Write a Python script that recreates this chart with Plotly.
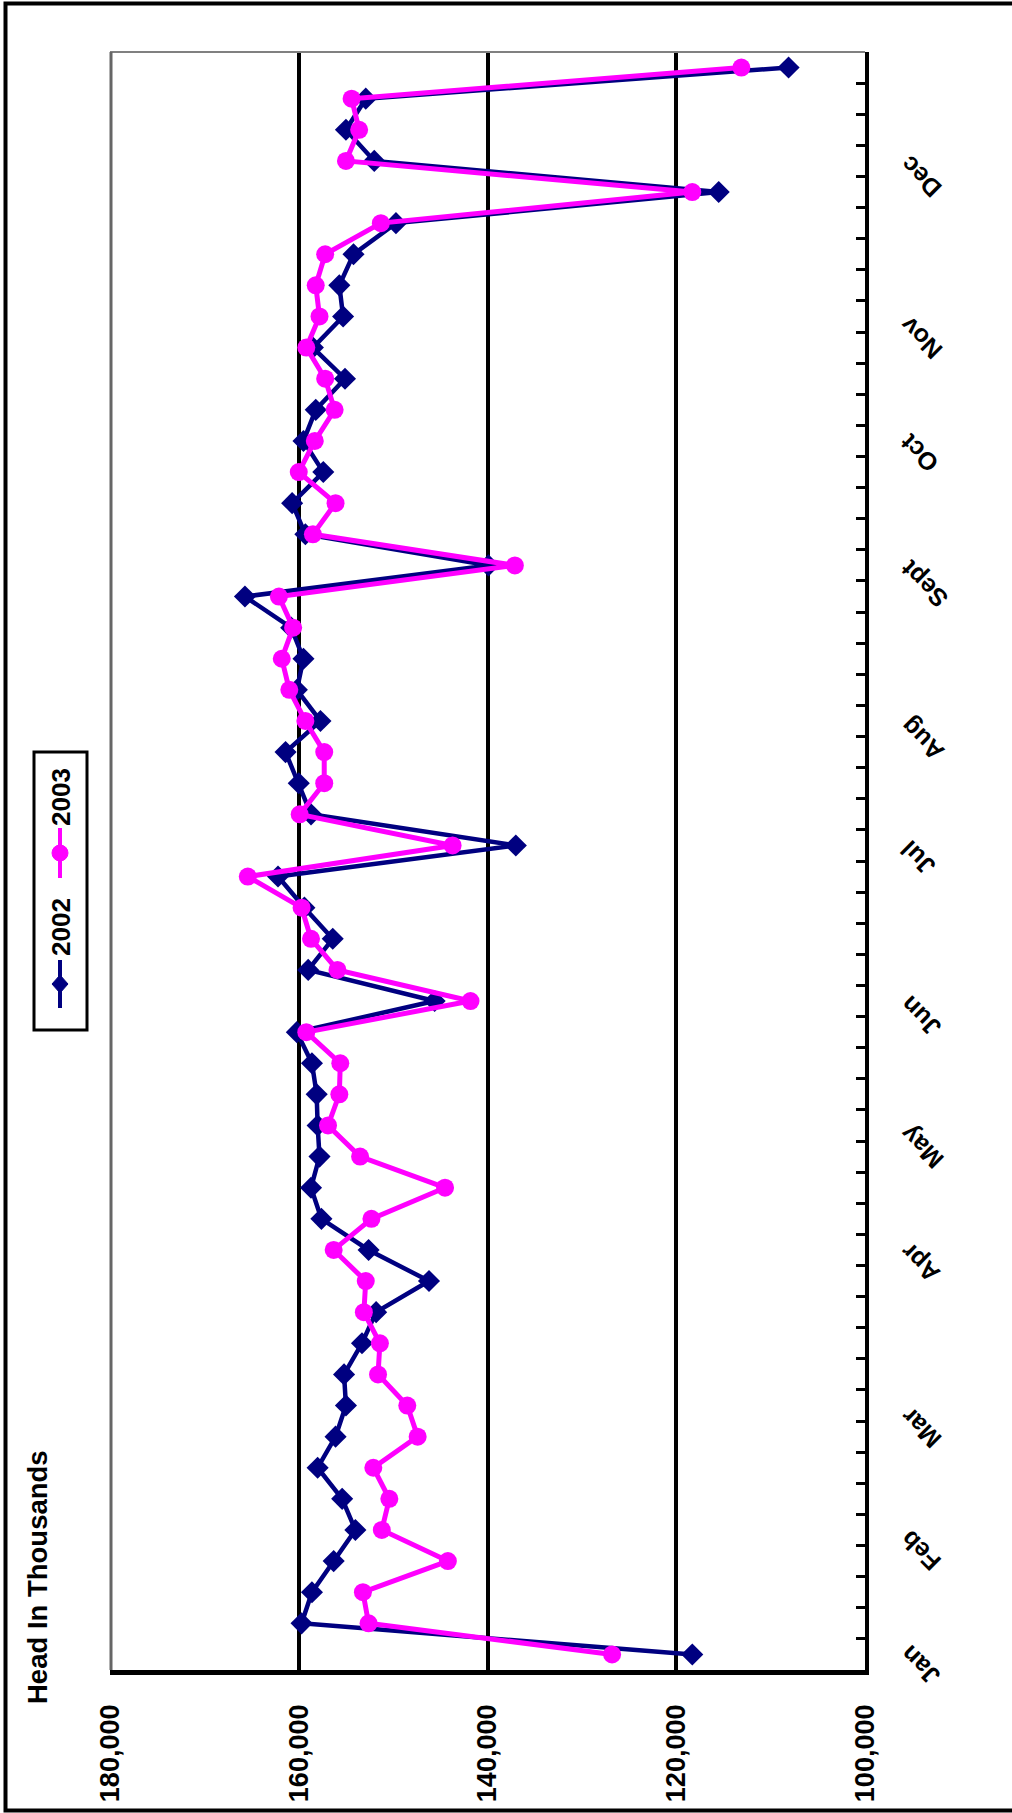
import plotly.graph_objects as go

# ---------------- data ----------------
weeks = list(range(1, 53))

head_2002 = [118300, 159700, 158600, 156300, 154000, 155400, 158000, 156100, 155000, 155200,
             153300, 151800, 146200, 152600, 157600, 158700, 157800, 158000, 158100, 158600,
             160200, 145600, 159000, 156400, 159400, 162200, 137000, 158700, 160000, 161400,
             157700, 160200, 159500, 160800, 165700, 139900, 159300, 160700, 157400, 159500,
             158200, 155100, 158500, 155300, 155700, 154200, 149700, 115500, 152000, 155000,
             152900, 108100]

head_2003 = [126800, 152600, 153200, 144200, 151200, 150400, 152100, 147400, 148500, 151600,
             151400, 153100, 152900, 156300, 152300, 144500, 153500, 156900, 155700, 155600,
             159200, 141800, 155900, 158700, 159700, 165400, 143700, 159900, 157300, 157300,
             159300, 161000, 161800, 160600, 162100, 137100, 158500, 156100, 160000, 158300,
             156200, 157200, 159200, 157800, 158200, 157200, 151300, 118300, 155000, 153600,
             154400, 113100]

months = ["Jan", "Feb", "Mar", "Apr", "May", "Jun", "Jul", "Aug", "Sept", "Oct", "Nov", "Dec"]
month_pos = [0.66, 4.33, 8.28, 13.6, 17.3, 21.5, 26.6, 30.4, 35.4, 39.6, 43.3, 48.5]

value_ticks = [100000, 120000, 140000, 160000, 180000]

series_names = ["2002", "2003"]
title_text = "Head In Thousands"

# ---------------- layout geometry ----------------
W_FIG, H_FIG = 1012, 1813
L, R, T, B = 110, 865, 52, 1670
PW, PH = R - L, B - T


def px_x(px):
    return (px - L) / PW


def px_y(py):
    return (B - py) / PH


NAVY = "#000080"
MAGENTA = "#FF00FF"
FONT = "Liberation Sans, Arial, sans-serif"


def bold(s):
    return "<b>" + s + "</b>"


fig = go.Figure()
fig.add_trace(go.Scatter(
    x=head_2002, y=weeks, mode="lines+markers", name=series_names[0],
    line=dict(color=NAVY, width=4.5),
    marker=dict(symbol="diamond", size=17, color=NAVY),
    showlegend=False,
))
fig.add_trace(go.Scatter(
    x=head_2003, y=weeks, mode="lines+markers", name=series_names[1],
    line=dict(color=MAGENTA, width=5),
    marker=dict(symbol="circle", size=18, color=MAGENTA),
    showlegend=False,
))

shapes = [
    # outer frame
    dict(type="rect", xref="paper", yref="paper", layer="above",
         x0=px_x(5.5), x1=px_x(1020), y0=px_y(1810.5), y1=px_y(3.5),
         line=dict(color="black", width=4)),
    # plot area grey border (top, left)
    dict(type="line", xref="paper", yref="paper", layer="above",
         x0=0, x1=1, y0=1, y1=1, line=dict(color="#808080", width=2)),
    dict(type="line", xref="paper", yref="paper", layer="above",
         x0=px_x(111), x1=px_x(111), y0=0, y1=1, line=dict(color="#666666", width=3)),
    # legend box
    dict(type="rect", xref="paper", yref="paper", layer="above",
         x0=px_x(34), x1=px_x(87), y0=px_y(1030), y1=px_y(752),
         line=dict(color="black", width=3), fillcolor="white"),
    dict(type="line", xref="paper", yref="paper", layer="above",
         x0=px_x(60), x1=px_x(60), y0=px_y(1008), y1=px_y(960),
         line=dict(color=NAVY, width=4)),
    dict(type="line", xref="paper", yref="paper", layer="above",
         x0=px_x(60), x1=px_x(60), y0=px_y(878), y1=px_y(828),
         line=dict(color=MAGENTA, width=4)),
    dict(type="path", xref="paper", yref="paper", layer="above",
         xsizemode="pixel", ysizemode="pixel", xanchor=px_x(60), yanchor=px_y(984),
         path="M 0,9 L 8,0 L 0,-9 L -8,0 Z", fillcolor=NAVY, line=dict(color=NAVY, width=1)),
    dict(type="circle", xref="paper", yref="paper", layer="above",
         xsizemode="pixel", ysizemode="pixel", xanchor=px_x(60), yanchor=px_y(853),
         x0=-8, x1=8, y0=-8, y1=8, fillcolor=MAGENTA, line=dict(color=MAGENTA, width=1)),
]

annotations = [
    dict(text=bold(title_text), xref="paper", yref="paper", x=px_x(37), y=px_y(1577),
         textangle=-90, showarrow=False, xanchor="center", yanchor="middle",
         font=dict(family=FONT, size=27.5, color="black")),
    dict(text=bold(series_names[0]), xref="paper", yref="paper", x=px_x(61), y=px_y(927),
         textangle=-90, showarrow=False, xanchor="center", yanchor="middle",
         font=dict(family=FONT, size=26, color="black")),
    dict(text=bold(series_names[1]), xref="paper", yref="paper", x=px_x(61), y=px_y(797),
         textangle=-90, showarrow=False, xanchor="center", yanchor="middle",
         font=dict(family=FONT, size=26, color="black")),
]
for m, p in zip(months, month_pos):
    annotations.append(dict(
        text=bold(m), xref="x domain", yref="y", x=1, y=p, xshift=27,
        textangle=-135, showarrow=False, xanchor="left", yanchor="middle",
        font=dict(family=FONT, size=25, color="black")))

fig.update_layout(
    width=W_FIG, height=H_FIG,
    margin=dict(l=L, r=W_FIG - R, t=T, b=H_FIG - B, autoexpand=False),
    paper_bgcolor="white", plot_bgcolor="white",
    showlegend=False,
    shapes=shapes, annotations=annotations,
    xaxis=dict(
        range=[180000, 100000], tickmode="array", tickvals=value_ticks,
        ticktext=[bold(f"{v:,}") for v in value_ticks], tickangle=-90,
        tickfont=dict(family=FONT, size=27, color="black"),
        showgrid=True, gridcolor="black", gridwidth=4,
        showline=True, linecolor="black", linewidth=4.5,
        ticks="", zeroline=False, ticklabelstandoff=19, automargin=False,
    ),
    yaxis=dict(
        range=[0.5, 52.5], side="right", tickmode="linear", tick0=0.5, dtick=1,
        ticks="inside", ticklen=9, tickwidth=3, tickcolor="black",
        showticklabels=False, showgrid=False, zeroline=False,
        showline=True, linecolor="black", linewidth=3.5, automargin=False,
    ),
)

fig.write_html("out.html", config={"displayModeBar": False},
               post_script="document.body.style.margin='0px';")
